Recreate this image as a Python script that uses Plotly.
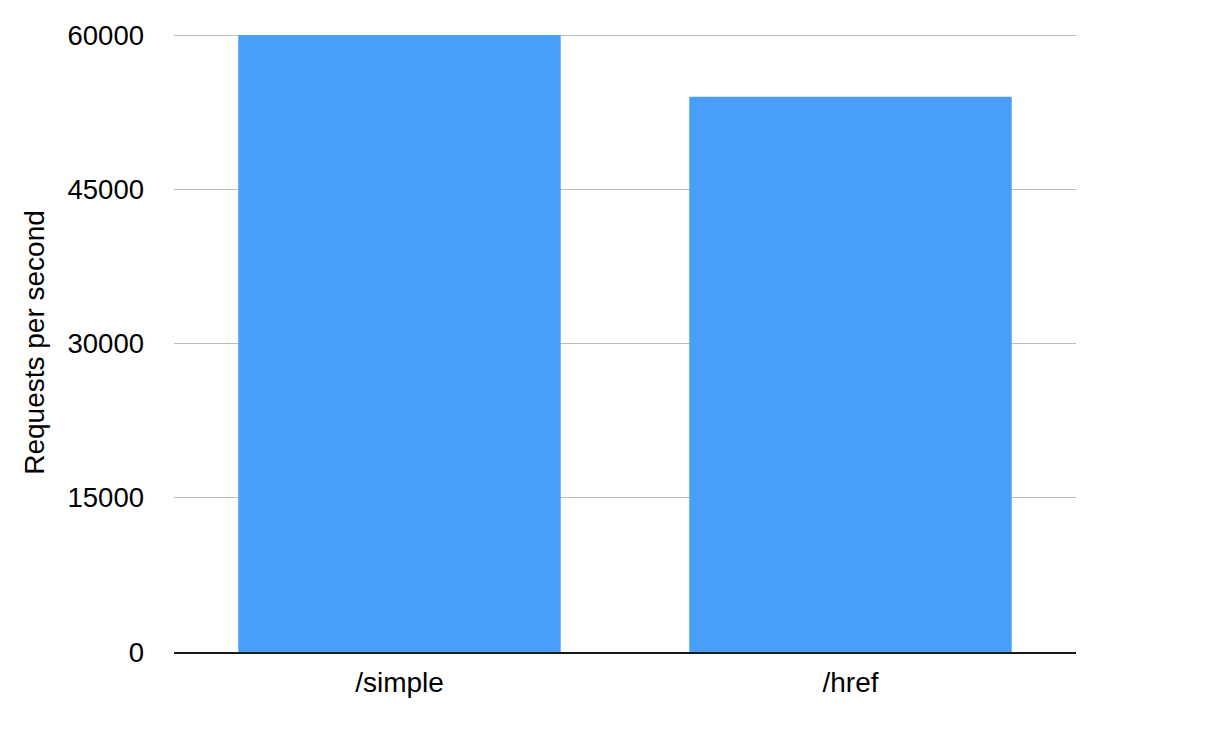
import plotly.graph_objects as go

# Dados do benchmark
endpoints = ["/simple", "/href"]
requests_per_second = [60000, 54000]
y_ticks = [0, 15000, 30000, 45000, 60000]

BAR_COLOR = "#489ef8"
FONT = "Liberation Sans, Arial, Helvetica, sans-serif"

fig = go.Figure(
    go.Bar(
        x=endpoints,
        y=requests_per_second,
        marker=dict(color=BAR_COLOR, line=dict(width=0)),
        width=0.715,
    )
)

# a página tem margem de 8px no body, por isso as margens compensam
fig.update_layout(
    width=1222,
    height=744,
    margin=dict(l=166, r=154, t=25, b=100),
    paper_bgcolor="white",
    plot_bgcolor="white",
    font=dict(family=FONT, size=28, color="black"),
    showlegend=False,
)

fig.update_xaxes(
    showline=True,
    linecolor="#1a1a1a",
    linewidth=2,
    showgrid=False,
    ticks="",
    ticklabelstandoff=4,
    tickfont=dict(size=28),
)

# range um pouco acima de 60000 para a grade do topo aparecer
fig.update_yaxes(
    range=[0, 60200],
    tickvals=y_ticks,
    ticktext=[str(v) for v in y_ticks],
    showgrid=True,
    gridcolor="#bdbdbd",
    gridwidth=1,
    zeroline=False,
    showline=False,
    ticks="",
    ticklabelstandoff=29,
    tickfont=dict(size=27.5),
    title=dict(text="Requests per second", font=dict(size=28), standoff=14),
)

fig.write_html("out.html")
